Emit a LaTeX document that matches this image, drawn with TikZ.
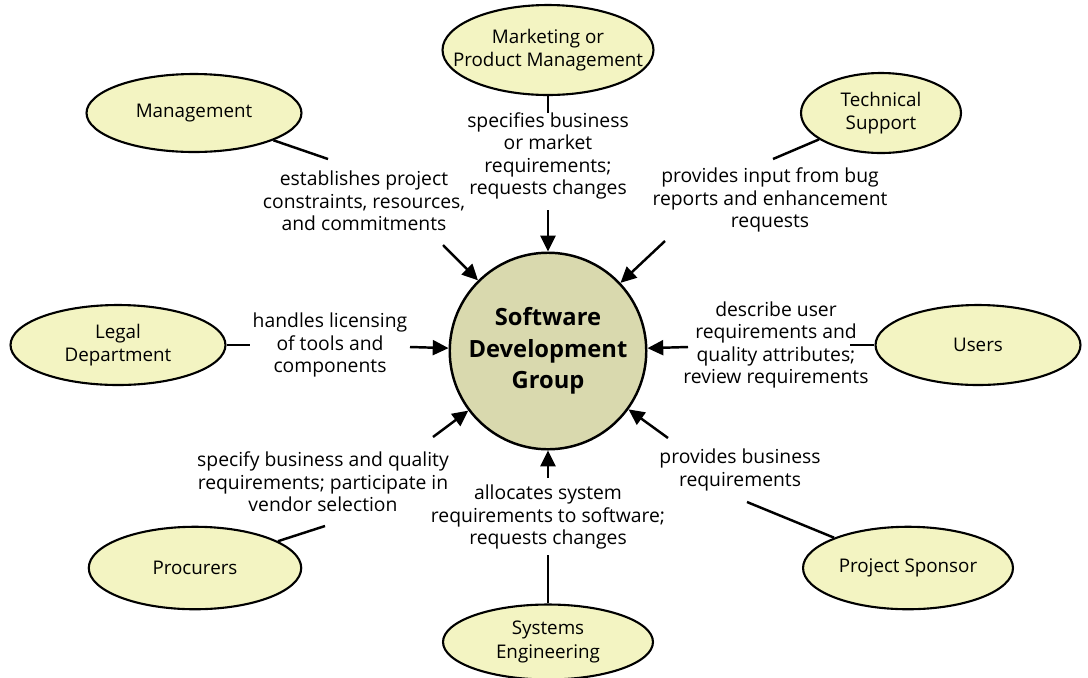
\documentclass[tikz,border=0pt]{standalone}
\usepackage{fontspec}
\setmainfont{Open Sans}
\usetikzlibrary{arrows.meta, shapes.geometric}
\definecolor{partyfill}{HTML}{F3F4C2}
\definecolor{groupfill}{HTML}{D9D9AE}
\begin{document}
\begin{tikzpicture}[x=0.02cm, y=-0.02cm,
    >={Triangle[length=9pt, width=8.5pt]},
    party/.style={ellipse, draw, line width=1.2pt, fill=partyfill, inner xsep=-1cm, inner ysep=-0.4cm,
        align=center, font=\fontsize{10.7}{13.5}\selectfont},
    group/.style={circle, draw, line width=1.4pt, fill=groupfill, minimum size=3.88cm,
        align=center, font=\fontsize{13.5}{18}\selectfont\bfseries},
    role/.style={align=center, font=\fontsize{11}{12.8}\selectfont},
    link/.style={line width=1.4pt},
    feed/.style={->, line width=1.4pt}]
    \useasboundingbox (0,0) rectangle (1088,677);

    % Central group
    \node[group] (sdg) at (548,351) {Software\\Development\\Group};

    % Parties around it
    \node[party, minimum width=4.22cm, minimum height=1.8cm] (mkt) at (548,50) {Marketing or\\Product Management};
    \node[party, minimum width=4.3cm, minimum height=1.56cm] (mgmt) at (194,113) {Management};
    \node[party, minimum width=3.2cm, minimum height=1.6cm] (tech) at (881,113) {Technical\\Support};
    \node[party, minimum width=4.3cm, minimum height=1.6cm] (legal) at (118,345) {Legal\\Department};
    \node[party, minimum width=4.1cm, minimum height=1.6cm] (users) at (978,345) {Users};
    \node[party, minimum width=4.25cm, minimum height=1.65cm] (proc) at (195,568) {Procurers};
    \node[party, minimum width=4.2cm, minimum height=1.65cm] (spons) at (908,568) {Project Sponsor};
    \node[party, minimum width=4.2cm, minimum height=1.5cm] (sys) at (548,642) {Systems\\Engineering};

    % Roles (text between the two halves of each connector)
    \node[role] (mktrole) at (548,156) {specifies business\\or market\\requirements;\\requests changes};
    \node[role] (mgmtrole) at (364,201) {establishes project\\constraints, resources,\\and commitments};
    \node[role] (techrole) at (770,200) {provides input from bug\\reports and enhancement\\requests};
    \node[role] (legalrole) at (330,345) {handles licensing\\of tools and\\components};
    \node[role] (usersrole) at (776,345) {describe user\\requirements and\\quality attributes;\\review requirements};
    \node[role] (procrole) at (323,482) {specify business and quality\\requirements; participate in\\vendor selection};
    \node[role] (sponsrole) at (740,470) {provides business\\requirements};
    \node[role] (sysrole) at (548,517) {allocates system\\requirements to software;\\requests changes};

    % Ends of the connector halves
    \coordinate (mkt1) at (548,113);  \coordinate (mkt2) at (548,210);
    \coordinate (mgmt1) at (328,159); \coordinate (mgmt2) at (443,245);
    \coordinate (tech1) at (773,159); \coordinate (tech2) at (665,241);
    \coordinate (legal1) at (250,345); \coordinate (legal2) at (410,347);
    \coordinate (users1) at (850,345); \coordinate (users2) at (688,347);
    \coordinate (proc1) at (325,526); \coordinate (proc2) at (433,437);
    \coordinate (spons1) at (747,502); \coordinate (spons2) at (668,438);
    \coordinate (sys1) at (548,555);  \coordinate (sys2) at (548,478);

    \foreach \p in {mkt, mgmt, tech, legal, users, proc, spons, sys} {
        \draw[link] (\p) -- (\p1);
        \draw[feed] (\p2) -- (sdg);
    }
\end{tikzpicture}
\end{document}
